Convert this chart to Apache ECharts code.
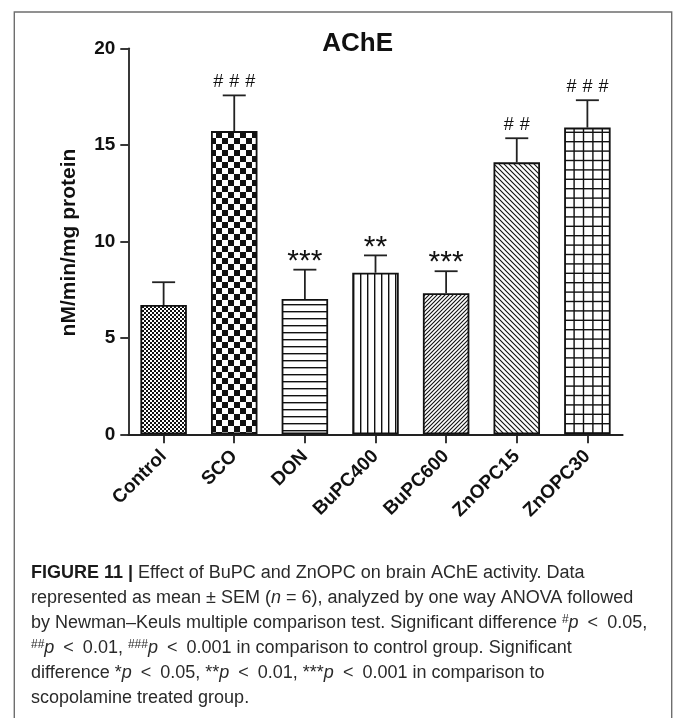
<!DOCTYPE html>
<html>
<head>
<meta charset="utf-8">
<script src="https://cdn.jsdelivr.net/npm/echarts@6/dist/echarts.min.js"></script>
<style>
html,body{margin:0;padding:0;background:#fff;}
#chart{width:673px;height:718px;}
</style>
</head>
<body>
<div id="chart"></div>
<script>
// ---- data ----
const categories = ['Control', 'SCO', 'DON', 'BuPC400', 'BuPC600', 'ZnOPC15', 'ZnOPC30'];
const means = [6.70, 15.71, 7.01, 8.37, 7.31, 14.09, 15.89];
const sems = [1.18, 1.85, 1.52, 0.90, 1.14, 1.25, 1.42];
const marks = ['', '###', '***', '**', '***', '##', '###'];
const yTicks = [0, 5, 10, 15, 20];
const titleText = 'AChE';
const yAxisTitle = 'nM/min/mg protein';

const FONT = '"Liberation Sans", Arial, Helvetica, sans-serif';

// ---- fill patterns ----
function tile(w, h, draw) {
  const c = document.createElement('canvas');
  c.width = w; c.height = h;
  const g = c.getContext('2d');
  g.fillStyle = '#fff'; g.fillRect(0, 0, w, h);
  g.fillStyle = '#111'; g.strokeStyle = '#111';
  draw(g, w, h);
  return { image: c, repeat: 'repeat' };
}
function diag(s, lw, forward) {
  return tile(s, s, function (g) {
    g.lineWidth = lw;
    g.beginPath();
    if (forward) {
      g.moveTo(0, s); g.lineTo(s, 0);
      g.moveTo(-1, 1); g.lineTo(1, -1);
      g.moveTo(s - 1, s + 1); g.lineTo(s + 1, s - 1);
    } else {
      g.moveTo(0, 0); g.lineTo(s, s);
      g.moveTo(-1, s - 1); g.lineTo(1, s + 1);
      g.moveTo(s - 1, -1); g.lineTo(s + 1, 1);
    }
    g.stroke();
  });
}
const patterns = [
  tile(4, 4, function (g) { g.fillRect(0, 0, 2, 2); g.fillRect(2, 2, 2, 2); }),
  tile(12, 12, function (g) { g.fillRect(0, 0, 6, 6); g.fillRect(6, 6, 6, 6); }),
  tile(7, 7, function (g) { g.fillRect(0, 3, 7, 1.4); }),
  tile(7, 7, function (g) { g.fillRect(3, 0, 1.4, 7); }),
  diag(4, 1.1, true),
  diag(5, 1.1, false),
  tile(47, 47, function (g) {
    for (let k = 0; k < 5; k++) {
      const p = k * 9.4;
      g.fillRect(p, 0, 1.4, 47);
      g.fillRect(0, p, 47, 1.4);
    }
  })
];

const barData = means.map(function (v, i) {
  return { value: v, itemStyle: { color: patterns[i] } };
});
const errData = means.map(function (v, i) { return [i, v, sems[i], i]; });

const chart = echarts.init(document.getElementById('chart'), null, { renderer: 'canvas' });

const LT = '\u2002<\u2002';
const caption = [
  '{b|FIGURE 11 |} {n|Effect of BuPC and ZnOPC on brain AChE activity. Data}',
  '{n|represented as mean ± SEM (}{i|n}{n| = 6), analyzed by one way ANOVA followed}',
  '{n|by Newman–Keuls multiple comparison test. Significant difference }{s|#}{i|p}{n|' + LT + '0.05,}',
  '{s|##}{i|p}{n|' + LT + '0.01, }{s|###}{i|p}{n|' + LT + '0.001 in comparison to control group. Significant}',
  '{n|difference *}{i|p}{n|' + LT + '0.05, **}{i|p}{n|' + LT + '0.01, ***}{i|p}{n|' + LT + '0.001 in comparison to}',
  '{n|scopolamine treated group.}'
].join('\n');

const capColor = '#2a2a2a';
const option = {
  animation: false,
  backgroundColor: '#fff',
  grid: { left: 128.3, right: 50.3, top: 48.3, bottom: 283.7, containLabel: false },
  xAxis: {
    type: 'category',
    data: categories,
    axisLine: { show: true, lineStyle: { color: '#222', width: 1.8 } },
    axisTick: { show: true, alignWithLabel: true, length: 9, lineStyle: { color: '#222', width: 1.8 } },
    axisLabel: {
      interval: 0, rotate: 45, margin: 19,
      color: '#111', fontSize: 19, fontWeight: 'bold', fontFamily: FONT
    },
    splitLine: { show: false }
  },
  yAxis: {
    type: 'value',
    min: yTicks[0], max: yTicks[yTicks.length - 1], interval: yTicks[1] - yTicks[0],
    axisLine: { show: true, lineStyle: { color: '#222', width: 1.8 } },
    axisTick: { show: true, length: 8, lineStyle: { color: '#222', width: 1.8 } },
    axisLabel: { margin: 13, color: '#111', fontSize: 19, fontWeight: 'bold', fontFamily: FONT },
    splitLine: { show: false }
  },
  series: [
    {
      type: 'bar',
      data: barData,
      barWidth: 46.5,
      itemStyle: { borderColor: '#111', borderWidth: 1.8 },
      z: 2
    },
    {
      type: 'custom',
      data: errData,
      z: 3,
      renderItem: function (params, api) {
        const idx = api.value(0);
        const v = api.value(1);
        const e = api.value(2);
        const p0 = api.coord([idx, v]);
        const p1 = api.coord([idx, v + e]);
        const hw = 11.5;
        const children = [
          { type: 'line', shape: { x1: p0[0], y1: p0[1], x2: p1[0], y2: p1[1] }, style: { stroke: '#222', lineWidth: 1.8 } },
          { type: 'line', shape: { x1: p1[0] - hw, y1: p1[1], x2: p1[0] + hw, y2: p1[1] }, style: { stroke: '#222', lineWidth: 1.8 } }
        ];
        const m = marks[params.dataIndex];
        if (m && m[0] === '#') {
          const n = m.length, step = 16;
          for (let k = 0; k < n; k++) {
            children.push({
              type: 'text',
              style: {
                text: '#', x: p1[0] + (k - (n - 1) / 2) * step, y: p1[1] - 13,
                align: 'center', verticalAlign: 'middle',
                font: '18px ' + FONT, fill: '#111'
              }
            });
          }
        } else if (m) {
          children.push({
            type: 'text',
            style: {
              text: m, x: p1[0], y: p1[1] - 8,
              align: 'center', verticalAlign: 'middle',
              font: '30px ' + FONT, fill: '#111'
            }
          });
        }
        return { type: 'group', children: children };
      }
    }
  ],
  graphic: [
    {
      type: 'rect', silent: true,
      shape: { x: 14.3, y: 12, width: 657.4, height: 760 },
      style: { fill: 'none', stroke: '#6e6e6e', lineWidth: 1.4 }
    },
    {
      type: 'text', silent: true,
      style: {
        text: titleText, x: 357.7, y: 44, align: 'center', verticalAlign: 'middle',
        font: 'bold 26px ' + FONT, fill: '#111'
      }
    },
    {
      type: 'text', silent: true,
      x: 69, y: 242.5, rotation: Math.PI / 2,
      style: {
        text: yAxisTitle, x: 0, y: 0, align: 'center', verticalAlign: 'middle',
        font: 'bold 21px ' + FONT, fill: '#111'
      }
    },
    {
      type: 'text', silent: true,
      style: {
        text: caption, x: 31, y: 560.5, align: 'left', verticalAlign: 'top',
        fill: capColor,
        font: '18px ' + FONT,
        lineHeight: 25,
        rich: {
          b: { fontSize: 18, fontWeight: 'bold', fontFamily: FONT, fill: '#1a1a1a', lineHeight: 25 },
          n: { fontSize: 18, fontFamily: FONT, fill: capColor, lineHeight: 25 },
          i: { fontSize: 18, fontStyle: 'italic', fontFamily: FONT, fill: capColor, lineHeight: 25 },
          s: { fontSize: 12, fontFamily: FONT, fill: capColor, verticalAlign: 'top', padding: [3, 0, 0, 0] }
        }
      }
    }
  ]
};
chart.setOption(option);
</script>
</body>
</html>
